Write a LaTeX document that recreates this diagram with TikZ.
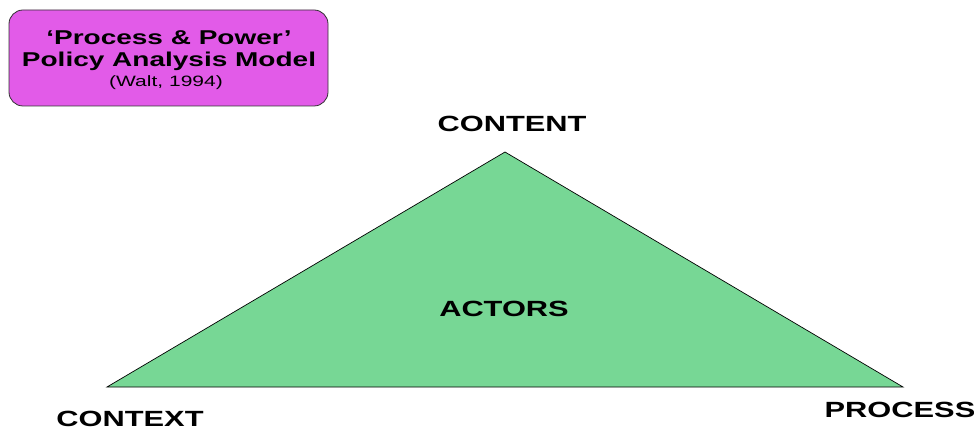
\documentclass[tikz,border=0pt]{standalone}
\usepackage{fontspec}
\usepackage{graphicx}
\setmainfont{Liberation Sans}
\usepackage{tikz}

\definecolor{boxpink}{HTML}{E25BE8}
\definecolor{trigreen}{HTML}{77D795}
\newcommand{\widen}[1]{\scalebox{1.4}[1]{#1}}

\begin{document}
\begin{tikzpicture}[x=1pt, y=-1pt,
  lbl/.style={anchor=base, inner sep=0pt, font=\fontsize{22}{26}\selectfont\bfseries}]
  \useasboundingbox (0,0) rectangle (974,430);

  % Title box
  \node[draw=black!80, line width=0.8pt, fill=boxpink, rounded corners=14pt,
        minimum width=319pt, minimum height=96pt, inner sep=0pt] (title) at (168.5,58) {};
  \node[lbl, font=\fontsize{20}{24}\selectfont\bfseries] (line1) at (169,45) {\scalebox{1.4}[1]{‘Process \& Power’}};
  \node[lbl, font=\fontsize{20}{24}\selectfont\bfseries] (line2) at (169,66.5) {\scalebox{1.4}[1]{Policy Analysis Model}};
  \node[lbl, font=\fontsize{15}{18}\selectfont] (line3) at (166,87) {\scalebox{1.4}[1]{(Walt, 1994)}};

  % Triangle
  \coordinate (apex) at (505,152);
  \coordinate (left) at (107,387);
  \coordinate (right) at (903,387);
  \draw[fill=trigreen, line width=0.7pt] (left) -- (apex) -- (right) -- cycle;

  % Labels
  \node[lbl] (content) at (512,132) {\widen{CONTENT}};
  \node[lbl] (actors) at (504,316.5) {\widen{ACTORS}};
  \node[lbl] (context) at (130,426.5) {\widen{CONTEXT}};
  \node[lbl] (process) at (900,417) {\widen{PROCESS}};
\end{tikzpicture}
\end{document}
